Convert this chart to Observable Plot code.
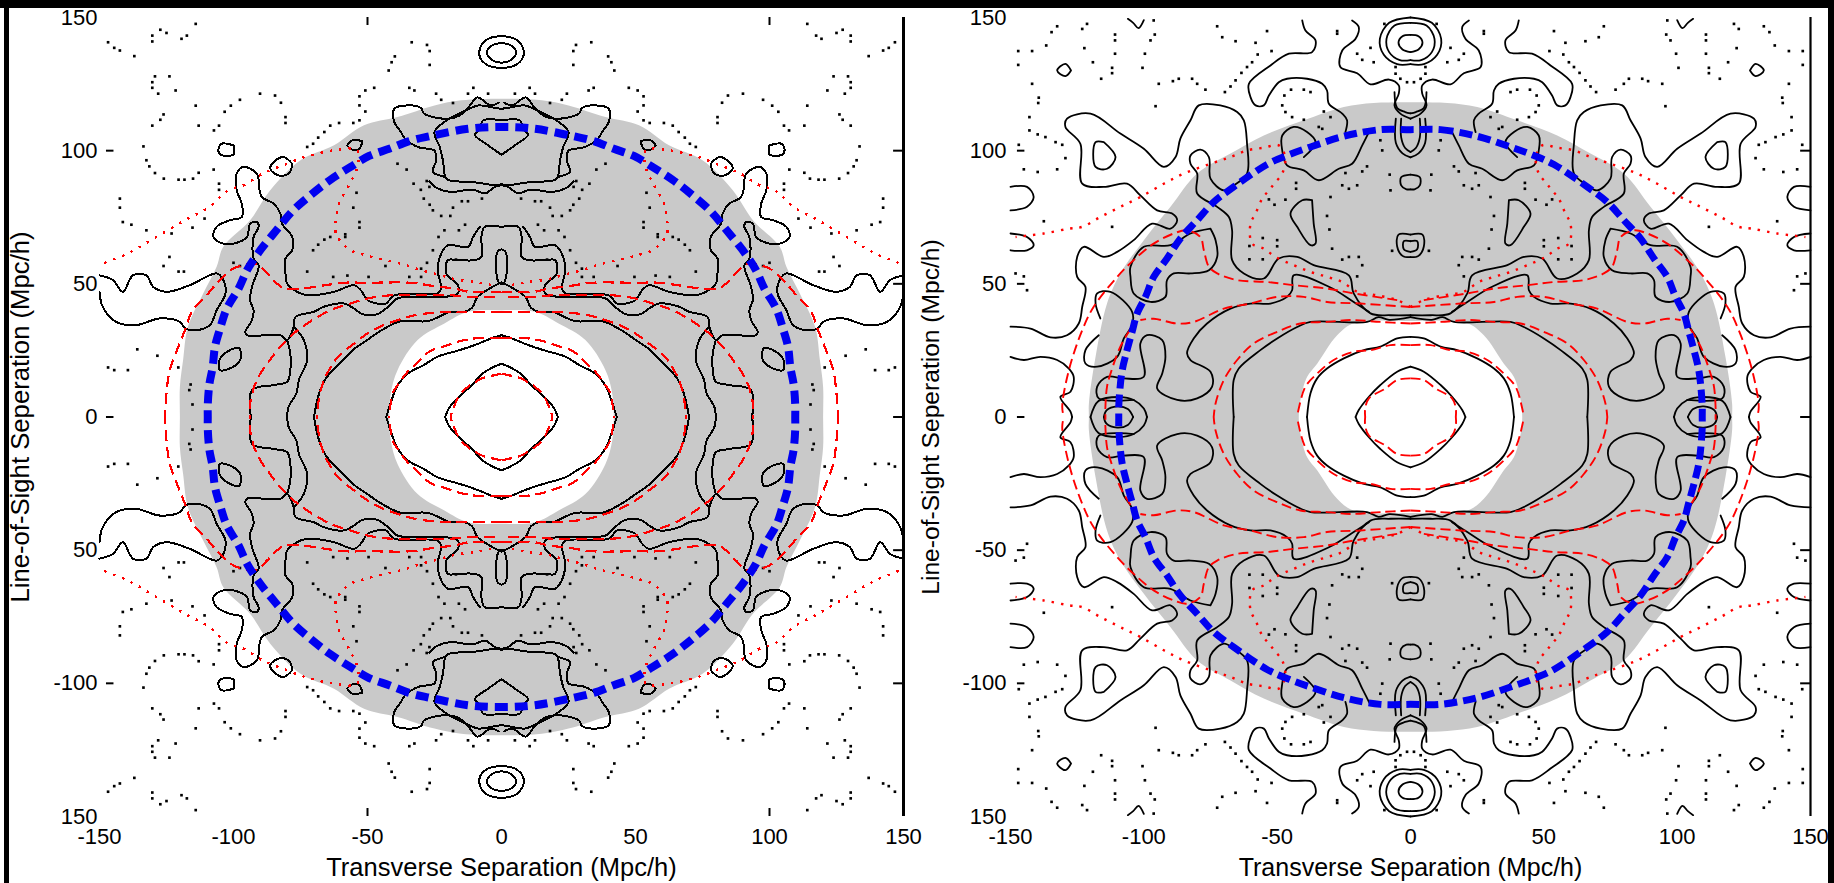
<!DOCTYPE html>
<html><head><meta charset="utf-8">
<script src="https://cdn.jsdelivr.net/npm/d3@7"></script>
<script src="https://cdn.jsdelivr.net/npm/@observablehq/plot@0.6"></script>
<style>
html,body{margin:0;padding:0;background:#fff;width:1834px;height:883px;overflow:hidden}
#stage{position:relative;width:1834px;height:883px;overflow:hidden}
#stage svg{position:absolute;top:0;overflow:visible}
.bar{position:absolute;background:#000}
</style></head><body><div id="stage"></div>
<script>
const xTicks=[-150,-100,-50,0,50,100,150];
const yTicks=[150,100,50,0,-50,-100,-150];
const xLabels=["-150","-100","-50","0","50","100","150"];
const leftYLabels=["150","100","50","0","50","-100","150"];
const rightYLabels=["150","100","50","0","-50","-100","150"];
const xTitle="Transverse Separation (Mpc/h)";
const yTitle="Line-of-Sight Seperation (Mpc/h)";

// all contour arrays hold one quadrant, x>=0 and y>=0, in Mpc/h; the map is symmetric about both axes
const leftGrayEdge=[[0,119.5],[15,118.9],[25,117],[38.8,112.6],[51.3,109.5],[62.5,102],[75,96.4],[86.3,85.1],[93.8,73.9],[103.8,63.9],[106.3,56.4],[111.3,46.4],[117,33.9],[118.8,21.4],[120,11.4],[120,0]];
const leftHoleEdge=[[0,40.1],[12.5,39.5],[21.3,35.1],[31.3,28.9],[38.8,17.6],[41.3,8.9],[41.9,0]];
const leftBlue=[[0,108.9],[12.5,108.2],[26.9,105.4],[34.4,103.6],[41.9,100.7],[49.4,98],[56.3,93.9],[63.8,89.1],[71,83.5],[78.1,77.2],[84,70.1],[89.8,62.9],[94.8,55.4],[98.1,48.2],[102.5,40.7],[105,33.2],[106.9,26.4],[107.8,18.6],[109,12.3],[109.6,4.5],[109.6,0]];
const leftBlack=[
[[0,20],[2.5,19],[7.5,16],[11,12],[16,7.5],[19.5,3.5],[21,0]],
[[0,30.7],[2.5,30],[10,27],[16,25],[24,22.6],[29,19.5],[35,16.3],[39,11.4],[41,6.3],[43,0]],
[[0,50.5],[4,48.5],[9,45],[11,41],[14,39.5],[19,39.5],[27.5,36],[37.5,36],[44,33],[50,29],[55,25.5],[60,20.6],[65.5,14.5],[68,9],[70,0]],
[[90.6,87.6],[91.3,91.4],[96.3,93.9],[98.8,91.4],[98.8,85.1],[96.9,80.1],[96.9,75.1],[101.3,73.9],[106.3,71.4],[107.5,67.6],[103.8,65.1],[100,65.1],[95,67.6],[93.8,72.6],[91.3,73.2],[90.6,71.4],[92.5,67.6],[92.5,59.5],[90.6,57],[93.1,48.9],[93.8,43.9],[92.5,40.1],[93.1,36.4],[95.6,32],[95,30.7],[82.5,30.7],[80,28.9],[77.5,33.9],[76.9,37.6],[70,39.5],[66.3,41.4],[58.8,42.6],[55,40.7],[51.9,38.6],[46.3,38.6],[43.1,40.7],[38.8,44.5],[31.3,45.1],[21.3,45.1],[16.3,46.4],[16.3,49.5],[20.6,53.9],[20,58.9],[16.3,58.9],[10,58.9],[7.5,60.1],[7.5,67.6],[6.3,71.4],[0,71.4]],
[[90.6,87.6],[89.4,82.6],[85,80.1],[82.5,76.4],[81.9,72.6],[78.1,67.6],[78.1,62.6],[80.6,59.5],[80.6,53.9],[80,50.1],[76.3,47],[72.5,45.7],[62.5,47],[55,49.5],[52.5,47.6],[50,43.9],[46.3,42.6],[43.1,42.6],[40,45.7],[23.8,46.4],[22.5,48.2],[23.8,55.1],[22.5,61.3],[20,64.5],[12.5,63.9],[10.6,67.6],[8.1,71.4]],
[[150,53.2],[145,51.4],[141.3,47],[137.5,53.2],[132.5,53.2],[130,48.9],[125,47],[116.3,49.5],[106.3,53.9],[103.8,51.4],[103,46.4],[106.3,40.1],[108.8,34.5],[113.8,32.6],[118,33.2],[120,35.7],[127.5,37],[136.3,34.5],[143.8,35.7],[148.8,41.4],[150,47]],
[[77.5,33.9],[73.8,28.9],[72.5,21.4],[75.6,13.9],[76.5,8.9],[79.4,3.9],[80,0]],
[[80,28.9],[78.8,23.9],[78.8,17.6],[80,13.2],[85,12],[93.1,10.1],[93.5,0]],
[[97.5,25.7],[100,25.7],[105,22],[105,17.6],[100,18.9],[97.5,21.4],[97.5,25.7]],
[[100,102],[104.4,102.6],[105.6,100.7],[105,98.6],[100,98.6],[100,102]],
[[78,95],[81.3,97.6],[85,95.7],[86.3,93.2],[83.1,90.7],[79.4,91.4],[78,95]],
[[51.9,103.6],[55.6,103.9],[57.5,102],[55.6,100.4],[53.1,100.7],[51.9,103.6]],
[[1,118],[4,117],[9,120],[12.5,116],[16,113],[20,112],[25,112.5],[29,114],[30,116],[35,117],[40,115.7],[40,110.7],[37.5,107],[36,104.5],[31,101.3],[25,100],[24.4,96.3],[25.6,92],[21,90],[20,89],[9,88],[2,87],[0,87.5]],
[[0,115.7],[3.7,116.3],[8.7,117],[12,115.7],[16,113.8],[20.6,111.3],[25,107],[23,101.3],[22,97],[21.2,90.7]],
[[0,87],[2.5,86.4],[6,84],[11,85.4],[19,84.5],[24,85.9],[27,88.5]],
[[0,111.4],[7,111.3],[8,108],[10,106],[5,102],[1.5,99.5],[0,98.5]],
[[0,63],[1.5,62],[2,55],[1,50.5],[0,50]],
[[0,143],[5,142],[8,138.5],[8,135],[5,132],[0,131]],
[[0,140.5],[3.5,139.5],[5.5,137],[3.5,134],[0,133]]
];
const leftRedDash=[
[[0,16.3],[2.5,15.7],[6,15],[10,13],[15,9],[18,3.3],[19,0]],
[[0,29.7],[10,29.5],[15,28.6],[20,27],[27,24.5],[31,20.7],[35,17],[38,13],[40.5,9],[42,0]],
[[0,39.5],[12.5,39.5],[21,39.5],[32.5,38.2],[39,36.3],[48,32.6],[55,27.6],[61,22.6],[65,16.4],[67.5,10],[69,0]],
[[2.5,45.1],[12.5,45.1],[18.8,45.7],[28.8,45.7],[41.3,45.7],[50,44.5],[56.3,42.6],[63.8,40.1],[72.5,35.1],[77.5,31.4],[83.1,25.7],[86.9,20.7],[91.3,13.9],[93.8,5.1],[93.8,0]],
[[0,47],[12,47],[17.5,48.2],[25,49.1],[33.8,50.4],[50,50.4],[58.8,50.4],[66.3,49.4],[75,48.2],[81.3,48.5],[83.8,50.1],[87.5,53.9],[91.9,57.6],[100,55.7],[106.3,50.1],[110,45.7],[115.6,39.5],[118.1,32.6],[120.6,26.4],[123.8,17.6],[125,8.9],[125.6,0]]
];
const leftRedDot=[[3.8,49.5],[9.4,50.7],[16.9,51.6],[22.5,53.2],[30,55.1],[35.6,57],[43.1,58.9],[50.6,60.7],[56.3,62.6],[61.3,67.6],[61.9,68.9],[61.5,76.6],[60.6,80.1],[57.3,86.4],[55.6,89.5],[53.8,93.9],[53.8,100.1],[62.5,100.1],[72.5,97.9],[80,95.1],[89.1,91.4],[96.3,87],[101.9,85.1],[109.4,78.6],[118.1,73.9],[128.8,67.6],[139.4,61.4],[148.8,57.6]];
const leftDots=[[27.8,139.7],[33.5,140.7],[26.8,137.4],[26.8,132.2],[39.8,135.4],[41,133.2],[42.1,130.1],[10.5,123.6],[5,121.4],[12.5,121.4],[24.4,121.4],[22.5,119.1],[18.1,117.9],[32.5,122.6],[34.4,123.6],[47.5,123.6],[50.8,122.6],[53,120.4],[53,117],[50.8,114.7],[53,111.4],[55.3,110.4],[60.6,110.4],[63.9,109.4],[66.1,107],[68.4,104.9],[70.3,102.6],[72.5,101.4],[84.5,120.7],[90.1,121.4],[82.3,118],[80.6,112.6],[80.6,110.4],[97.6,119.1],[101,116.9],[103.3,114.6],[114.1,116.9],[105.4,109.4],[107.3,107.6],[113,109.4],[126.1,113.6],[127.3,111.6],[130.3,109.4],[121.6,122.6],[128.1,121.4],[130.3,123.6],[130.3,125.7],[129.3,127.9],[123.9,127.9],[133.6,101.6],[132.5,96.4],[131.4,94.1],[129.3,91.6],[126,89.5],[120.5,89.1],[118.3,89.1],[115.1,89.5],[113,91.7],[107.4,92.9],[105.4,87.6],[105.4,85.3],[114.1,147.6],[117.4,143.2],[119.4,142],[125,144.2],[127.3,145.4],[130.3,143.2],[130.3,141],[137,135.5],[142.4,137.6],[144.5,138.6],[146.8,140.7],[142.4,82],[142.4,78.6],[141.3,73.2],[138.1,72.2],[132.5,70.1],[123.1,68.9],[115.3,71.1],[110.8,74.5],[128.4,23],[135.9,25.4],[139.4,17.6],[144.5,17.6],[146.8,18.6],[120.6,18.6],[123.9,60.1],[126.1,56.7],[118.5,54.6],[120.5,54.6],[100,57.9],[97.6,56.7],[53,73.2],[53,71.1],[58.3,68.6],[58.3,67.6],[63.9,67.6],[66.1,66.6],[68.4,64.7],[70.3,62.6],[72.5,54.6],[43.3,56.7],[55.3,78.6],[54.1,84.2],[25.6,62.6],[27.8,57.9],[30,55.7],[38.8,95.1],[35.4,92.9],[27.9,88.6],[26.9,86.4],[30.1,85.3],[29,82],[26.8,79.7],[12.5,81],[14.8,81],[7.3,82],[18.1,78.6],[19.1,75.5],[22.5,75.5],[25.6,77.6],[13.6,72.2],[15.9,70.1],[21.3,70.1],[23.5,67.6],[49.6,52.6],[57.5,53.1],[62.8,52.6],[30,52.6],[34.4,52.6],[17,59.1],[116,12.2],[116.5,10.1],[115.3,4.7],[32.8,87.6]];

const rightGrayEdge=[[0,118.2],[13.8,117.9],[25,116.4],[40,111.4],[55,105.7],[67.5,98.9],[80,91.4],[90,78.9],[100,66.4],[108.8,53.9],[113.8,42.6],[118.1,22.6],[120.6,5.1],[120.6,0]];
const rightHoleEdge=[[0,36],[21,35.3],[27.5,30.7],[35,20],[38.8,15],[41.3,6.3],[41.9,0]];
const rightBlue=[[0,107.9],[11.3,107.9],[25,105.4],[37.5,101.4],[46.3,98.2],[53.8,94.8],[66.3,86.4],[73.8,80.7],[80,73.9],[86.3,67],[91.3,59.5],[96.3,52.6],[99.4,45.1],[102.5,38.9],[104.4,32],[106.3,25.1],[108.1,17.6],[109,10.1],[109.4,3.9],[109.4,0]];
const rightBlack=[
[[0,18.9],[5,17],[11.3,12],[15.6,7.6],[19.4,2.6],[20.6,0]],
[[0,30.1],[5,29.5],[11.3,26.4],[17.5,25.1],[25,22],[31.3,18.2],[35,14.5],[37.5,8.9],[38.8,0]],
[[0,37.5],[8,36.5],[12,37.5],[16.3,35.7],[37.5,35.7],[42.5,33.8],[50,29.5],[56.3,25.1],[64.4,18.2],[66.3,13.9],[66.3,0]],
[[150,33.9],[142.5,33.2],[135,29.9],[128.8,30.7],[124.4,35.1],[123.1,41.4],[121.9,48.9],[125,52.6],[125,60.1],[122.5,63.9],[115,60.1],[110,62],[103.8,66.4],[96.9,72.6],[90,70.7],[87.5,73.9],[89.4,76.4],[95,77.6],[101.3,83.2],[106.3,87.6],[115,86.4],[123.1,87.6],[123.8,102.6],[129.4,108.9],[128.8,112],[120,113.9],[108.8,106.4],[100,100.7],[92.5,93.9],[88.1,97.6],[86.3,104.5],[82.5,111.4],[79.4,117],[71.3,117],[65,114.5],[62.5,111.4],[61.3,102.6],[61.3,91.4],[66.3,87],[70,85.1],[75,89.5],[75.6,97.6],[78.8,100.4],[82.5,98.2],[82.5,95.1],[80,91.4],[80,83.9],[72.5,78.9],[68.1,75.1],[66.9,70.1],[66.9,58.9],[62.5,53.9],[55,52],[49.4,59.5],[42.5,60.1],[36.3,57],[23.1,53.2],[21.3,46.4],[15,38.9],[7.5,38.2],[0,38.2]],
[[40.6,148.9],[39.4,145.1],[35.6,141.4],[36.9,137],[45.6,136.4],[52.5,132],[60.6,125.1],[60,120.1],[58.1,117],[55,117],[53.1,120.7],[49.4,125.7],[46.3,127],[38.8,127],[33.1,125.1],[31.3,122.6],[30.6,117.6],[25.6,113.9],[23.8,111.4],[24.4,107]],
[[15,108.2],[18.1,102],[21.9,95.1],[26.9,93.2],[34.4,88.9],[40,92.6],[46.3,94.5],[48.1,100.1],[48.1,105.7],[43.8,108.9],[38.8,107],[35.6,103.2],[40,97.6]],
[[21.9,148.9],[19.4,146.4],[20.6,142],[25.6,137.6],[26.3,131.4],[20,129.1],[15,124.9],[8.1,126.7],[4.4,124.5],[4.4,121.4],[6,117],[3.8,113.9],[0,112]],
[[75,70.7],[73.1,66.4],[72.5,60.1],[75.6,55.1],[82.5,53.9],[88.8,53.9],[91.3,51.4],[91.9,45.1],[97.5,43.2],[103.8,46.4],[105,52.6],[105,56.4],[100,63.9],[90,64.5],[82.5,68.9],[75,70.7]],
[[116.9,30.7],[121.9,25.1],[121.9,20.1],[117.5,18.9],[110,22.6],[107.5,29.5],[104.4,34.5],[104.4,39.5],[112.5,47],[117.5,46.4],[118.1,42.6],[116.3,37]],
[[15.6,39.5],[21.3,43.2],[30.6,48.9],[43.8,53.2],[44.4,47.6],[46.3,45.1],[52.5,42.6],[60,42.6],[67.5,40.7],[76.3,35.1],[81.3,29.5],[83.8,23.9],[82.5,21.4],[75,17],[74.4,11.4],[80,7],[87.5,6.4],[95,10.7],[93.1,16.3],[91.9,22.6],[93.1,28.9],[98.8,30.7],[101.3,27.6],[100,15.1],[107.5,14.5],[113.8,15.1],[117.5,11.4],[116.9,7],[103.8,6.4]],
[[98.8,0],[100,3.2],[103.8,6.4],[109,7.5],[117,6],[120,0]],
[[104,0],[106,3],[110,4],[114,2.5],[115,0]],
[[150,22.6],[145,21.4],[138.8,22.6],[132.5,21.4],[128.1,18.2],[126.3,15.1],[127.5,9.5],[131.3,7.6],[127.5,2],[126.9,0]],
[[150,86.4],[143.8,86.4],[141.3,82.6],[143.8,78.9],[150,77.6]],
[[150,68.9],[143.8,67.6],[141.3,64.5],[143.8,62.6],[150,62.6]],
[[36.9,81.4],[40.6,81.4],[45,76.4],[42.5,71.4],[37.5,64.5],[35.6,65.1],[36.3,72.6],[36.9,81.4]],
[[115,103.2],[118.1,103.2],[118.1,93.9],[113.8,93.2],[110.6,97.6],[115,103.2]],
[[127.3,130.1],[129.4,132.6],[132.5,130.1],[129.4,128],[127.3,130.1]],
[[0,143.5],[3,143],[4.5,140.5],[3,138],[0,137]],
[[0,148],[6,147],[9,142],[8,137],[4,134],[0,134]],
[[0,150],[8,148],[11.5,142],[10,136],[5,132.5],[0,132.5]],
[[0,68.5],[4.5,68.5],[5,64],[3,60.5],[0,60]],
[[0,66],[2.5,66],[2.5,63],[0,62]],
[[0,91],[3.5,90],[3.5,87],[1.5,85.5],[0,85.5]],
[[5.5,112],[5.5,103],[3,99],[0,97.5]],
[[3.5,112],[3.5,105],[2,101],[0,99.5]],
[[6,122],[5,116],[2,114.5],[0,114]],
[[100,149],[102,146],[104,148],[106,149.5]]
];
const rightRedDash=[
[[0,14.5],[5,13.9],[9.4,10.7],[15.6,7],[17,3.2],[17,0]],
[[0,27],[7.5,27],[15,25.1],[21.3,24.5],[28.8,21.4],[35,16.3],[39.4,11.4],[41.9,3.2],[42.5,0]],
[[0,35.1],[11.3,35.7],[22.5,36.4],[31.3,35.7],[41.3,35.1],[50,32],[58.8,27.6],[65,21.4],[70,13.9],[73.1,5.1],[73.8,0]],
[[0,41.3],[18.8,42.6],[31.3,43.2],[40,45.1],[50,45.1],[60,42.6],[70,40.7],[81.3,35.7],[87.5,35.1],[96.3,36.9],[101.3,36.4]],
[[5,43.9],[21.3,46.4],[31.3,48.2],[43.8,49.5],[53.8,50.7],[65,51.4],[72.5,53.9],[75.6,56.4],[77.5,62.6],[78.8,67.6],[83.8,70.1],[88.8,68.9],[96.3,65.1],[103.8,58.9],[110,52.6],[118.8,41.4],[123.1,32.6],[128.1,17.6],[130.6,3.8],[130,0]],
[[105,33],[108.8,26.4],[112.5,16.3],[113.8,11.4],[114.4,3.9],[114.4,0]]
];
const rightRedDot=[[0,41.3],[5,43.9],[12.5,45.7],[20,47],[25.6,50.7],[31.3,52.6],[37.5,54.5],[43.8,57],[50.6,60.1],[55,63.2],[59.4,65.1],[60,72.6],[58.1,76.4],[55.6,82],[53.1,85.1],[50.6,88.2],[48.1,91.4],[47,97.6],[49.4,102],[55,101.1],[61.3,100.1],[67.5,97.6],[75,95.1],[85,91.4],[92.5,87.6],[101.3,82.6],[108.8,78.9],[116.3,75.1],[123.1,71.4],[128.1,70.7],[137.5,68.9],[148.1,67.6]];
const rightDots=[[9.8,147.6],[15,138.6],[20,136.4],[18.1,134.1],[13.8,133.2],[5.6,131.4],[5.6,128.9],[3.8,127],[1.3,125.7],[27.5,144.9],[27.5,143.9],[53.8,144.9],[58.1,140.5],[65.6,141.1],[72.5,146.7],[70.6,142.6],[52.1,137.4],[57.3,136.1],[59.4,133.2],[61.3,131.4],[63.4,129.2],[65.6,126.4],[67.5,124.1],[69.6,122],[76.9,122.9],[80,125.1],[81.9,127],[86.9,127],[89.1,126.1],[94.4,125.1],[95.6,116.7],[37.5,122],[40,122.9],[44.8,122.9],[47.3,120.7],[48.1,117],[46.9,114.5],[44.4,112.6],[40,111.6],[30,112.6],[32.5,114.7],[33.1,108.2],[34.4,108.9],[11.3,103.9],[10.6,100.1],[16.3,94.1],[18.1,92.2],[24.4,91.6],[7.8,91],[7.5,85.1],[20,87],[23.1,85.7],[25.6,87],[30,82.6],[31.3,75.5],[30.4,70.4],[29.4,63.2],[46.9,81.6],[51,79.7],[53.1,81.7],[42.9,87.9],[42.9,85.7],[50,66.4],[50,64.1],[55.4,67.2],[60.4,64.2],[60.4,59.2],[55.4,59.2],[19.4,60.1],[23.1,60.1],[25.6,59.1],[18.1,57],[20,52.8],[6.9,62.4],[96.3,148.9],[95.9,143.6],[97.5,141.4],[110.8,143.6],[110.8,141.4],[99.6,136.4],[110.8,136.4],[100.5,131.1],[111.9,131.1],[111.9,129.1],[116,127],[122.3,138.5],[119.1,133.2],[121.3,147.6],[123.1,145.7],[132.5,146.7],[134.6,144.5],[136.6,139.5],[141.9,137.4],[147.1,137.4],[147.1,132.2],[141.9,125.1],[139.4,119.9],[139.6,117.9],[142.9,112.6],[142.9,107.6],[139.8,106.1],[136.9,105.1],[133.1,103.2],[130.6,102.2],[146.9,102.2],[129.4,97.2],[132.5,93],[139.8,92],[145,93],[137.5,73.5],[111.9,71.4],[145,52.8],[148.1,53.9],[143.8,47.6]];

const leftHyphens=[100,0,-100], rightHyphens=[100,50,0,-50,-100];
const edgeTicks=[100,50,0,-50,-100];
const leftTopTicks=[-50,100];

// a quadrant polyline reflected across both axes: four separate lines
function mirrored(lines){
  const rows=[];let id=0;
  for(const line of lines)for(const [sx,sy] of [[1,1],[-1,1],[1,-1],[-1,-1]]){
    for(const [x,y] of line)rows.push({x:sx*x,y:sy*y,id});
    id++;
  }
  return rows;
}
// a quadrant edge running from the y axis to the x axis, closed into one ring
function ring(q){
  const r=[...q].reverse().slice(1);
  const s=q.slice(1);
  return [...q.map(([x,y])=>({x,y})),...r.map(([x,y])=>({x,y:-y})),...s.map(([x,y])=>({x:-x,y:-y})),...r.slice(0,-1).map(([x,y])=>({x:-x,y}))];
}
const dotRows=ds=>mirrored(ds.map(d=>[d]));
const sans="'Liberation Sans',sans-serif";

function panel(c){
  const rowsBlack=mirrored(c.black),rowsRed=mirrored(c.redDash),rowsDot=mirrored([c.redDot]);
  return Plot.plot({
    width:c.width,height:883,
    marginLeft:c.left,marginRight:c.width-c.right,marginTop:17,marginBottom:67,
    x:{domain:[-150,150],axis:null},y:{domain:[-150,150],axis:null},
    style:{background:"transparent",overflow:"visible",fontFamily:sans,color:"#000"},
    marks:[
      Plot.line(ring(c.gray),{x:"x",y:"y",fill:"#c9c9c9",stroke:"none",curve:"catmull-rom-closed"}),
      Plot.line(ring(c.hole),{x:"x",y:"y",fill:"#fff",stroke:"none",curve:"catmull-rom-closed"}),
      Plot.dot(dotRows(c.dots),{x:"x",y:"y",symbol:"square",r:1.5,fill:"#000",stroke:"none"}),
      Plot.line(rowsBlack,{x:"x",y:"y",z:"id",stroke:"#000",strokeWidth:c.lw,curve:"catmull-rom",shapeRendering:c.crisp}),
      Plot.line(rowsDot,{x:"x",y:"y",z:"id",stroke:"#f00",strokeWidth:2.4,strokeDasharray:"2.4 7",strokeLinecap:"butt",curve:"catmull-rom",shapeRendering:c.crisp}),
      Plot.line(rowsRed,{x:"x",y:"y",z:"id",stroke:"#f00",strokeWidth:c.redW,strokeDasharray:c.redDashes,strokeLinecap:"butt",curve:"catmull-rom",shapeRendering:c.crisp}),
      Plot.line(ring(c.blue),{x:"x",y:"y",stroke:"#0000f0",strokeWidth:c.blueW,strokeDasharray:c.blueDash,strokeLinecap:"butt",curve:"catmull-rom-closed"}),
      Plot.ruleX([150],{y1:-150,y2:150,stroke:"#000",strokeWidth:c.axisW}),
      Plot.ruleY(edgeTicks,{x1:146.3,x2:150,stroke:"#000",strokeWidth:2}),
      Plot.ruleY(c.hyphens,{x1:-147.4,x2:-144.6,stroke:"#000",strokeWidth:2}),
      Plot.ruleX(c.topTicks,{y1:147,y2:150,stroke:"#000",strokeWidth:2}),
      Plot.ruleX(c.topTicks,{y1:-147,y2:-150,stroke:"#000",strokeWidth:2}),
      Plot.axisX({ticks:xTicks,tickSize:0,tickPadding:12,fontSize:22,tickFormat:d=>xLabels[xTicks.indexOf(d)],label:null}),
      Plot.axisY({ticks:yTicks,tickSize:0,tickPadding:c.pad,fontSize:22,tickFormat:d=>c.yLabels[yTicks.indexOf(d)],label:null}),
      Plot.text([xTitle],{frameAnchor:"bottom",lineAnchor:"middle",dy:51,fontSize:c.xFont,fill:"#000"}),
      Plot.text([yTitle],{frameAnchor:"left",textAnchor:"middle",lineAnchor:"middle",rotate:-90,dx:c.yDx,fontSize:c.yFont,fill:"#000"})
    ]
  });
}
const stage=document.getElementById("stage");
const a=panel({width:915,left:99,right:903,gray:leftGrayEdge,hole:leftHoleEdge,blue:leftBlue,black:leftBlack,redDash:leftRedDash,redDot:leftRedDot,dots:leftDots,hyphens:leftHyphens,topTicks:leftTopTicks,yLabels:leftYLabels,lw:2,crisp:"crispEdges",redW:2.2,redDashes:"11 6",blueW:8,blueDash:"13 7",axisW:3,pad:2,xFont:25.5,yFont:25.7,yDx:-79});
a.style.left="0px";stage.appendChild(a);
const b=panel({width:919,left:95,right:895,gray:rightGrayEdge,hole:rightHoleEdge,blue:rightBlue,black:rightBlack,redDash:rightRedDash,redDot:rightRedDot,dots:rightDots,hyphens:rightHyphens,topTicks:[],yLabels:rightYLabels,lw:1.8,crisp:"auto",redW:1.9,redDashes:"10 5",blueW:7,blueDash:"13 6",axisW:2.2,pad:4,xFont:25,yFont:24.6,yDx:-79});
b.style.left="915px";stage.appendChild(b);
for(const [l,t,w,h] of [[0,0,1834,8],[4,8,5,875],[1828,8,6,875]]){
  const d=document.createElement("div");d.className="bar";
  d.style.cssText=`left:${l}px;top:${t}px;width:${w}px;height:${h}px`;stage.appendChild(d);
}
</script></body></html>
